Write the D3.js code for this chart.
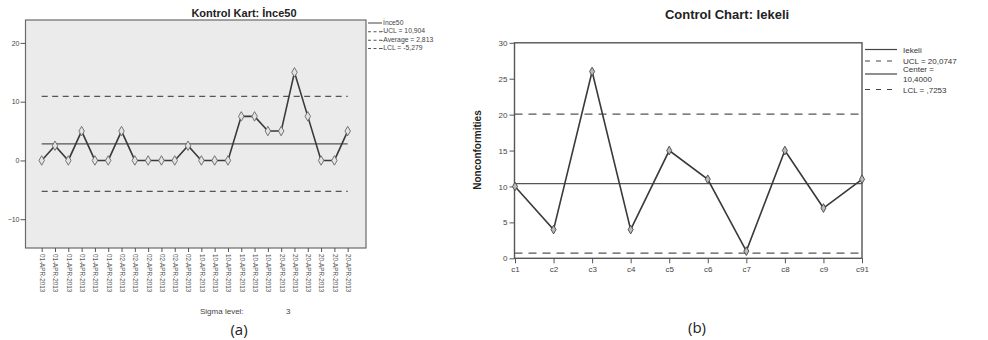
<!DOCTYPE html>
<html>
<head>
<meta charset="utf-8">
<script src="https://cdn.jsdelivr.net/npm/d3@7"></script>
<style>
  html, body { margin: 0; padding: 0; background: #fff; }
  svg { display: block; font-family: "Liberation Sans", Arial, sans-serif; }
</style>
</head>
<body>
<svg id="chart" width="988" height="340"></svg>
<script>
// ---- Panel (a): Kontrol Kart: İnce50 ----
const datesA = [
  "01-APR-2013","01-APR-2013","01-APR-2013","01-APR-2013","01-APR-2013","01-APR-2013",
  "02-APR-2013","02-APR-2013","02-APR-2013","02-APR-2013","02-APR-2013","02-APR-2013",
  "10-APR-2013","10-APR-2013","10-APR-2013","10-APR-2013","10-APR-2013","10-APR-2013",
  "20-APR-2013","20-APR-2013","20-APR-2013","20-APR-2013","20-APR-2013","20-APR-2013"
];
const valuesA = [0, 2.5, 0, 5, 0, 0, 5, 0, 0, 0, 0, 2.5, 0, 0, 0, 7.5, 7.5, 5, 5, 15, 7.5, 0, 0, 5];
const uclA = 10.904, avgA = 2.813, lclA = -5.279;
const yTicksA = [-10, 0, 10, 20];
const legendA = ["İnce50", "-UCL = 10,904", "-Average = 2,813", "-LCL = -5,279"];

// ---- Panel (b): Control Chart: Iekeli ----
const catsB = ["c1","c2","c3","c4","c5","c6","c7","c8","c9","c91"];
const valuesB = [10, 4, 26, 4, 15, 11, 1, 15, 7, 11];
const uclB = 20.0747, centerB = 10.4, lclB = 0.7253;
const yTicksB = [0, 5, 10, 15, 20, 25, 30];

const svg = d3.select("#chart");
const lineColor = "#3a3a3a";

// ================= Panel (a) =================
{
  const L = 25.5, R = 366, T = 20, B = 248;
  const g = svg.append("g");
  const x = d3.scalePoint().domain(d3.range(valuesA.length)).range([41.7, 347.7]);
  const y = d3.scaleLinear().domain([-14.9, 23.9]).range([B, T]);

  g.append("rect").attr("x", L).attr("y", T).attr("width", R - L).attr("height", B - T)
    .attr("fill", "#ebebeb").attr("stroke", "#6a6a6a").attr("stroke-width", 1.2);

  // y axis
  const yAxis = g.append("g").attr("transform", `translate(${L},0)`)
    .call(d3.axisLeft(y).tickValues(yTicksA).tickSize(5).tickPadding(1));
  yAxis.select(".domain").remove();
  yAxis.selectAll("line").attr("stroke", "#555");
  yAxis.selectAll("text").attr("font-size", 7).attr("fill", "#444");

  // x axis with rotated date labels
  const xAxis = g.append("g").attr("transform", `translate(0,${B})`)
    .call(d3.axisBottom(x).tickSize(4).tickFormat(i => datesA[i]));
  xAxis.select(".domain").remove();
  xAxis.selectAll("line").attr("stroke", "#555");
  xAxis.selectAll("text")
    .attr("font-size", 6.3).attr("fill", "#555")
    .attr("transform", "rotate(90)")
    .attr("text-anchor", "start")
    .attr("x", 6).attr("y", 0).attr("dy", "0.33em");

  const x0 = x(0), x1 = x(valuesA.length - 1);
  // control limits
  g.append("line").attr("x1", x0).attr("x2", x1).attr("y1", y(uclA)).attr("y2", y(uclA))
    .attr("stroke", "#555").attr("stroke-width", 1.3).attr("stroke-dasharray", "6,4.5");
  g.append("line").attr("x1", x0).attr("x2", x1).attr("y1", y(lclA)).attr("y2", y(lclA))
    .attr("stroke", "#555").attr("stroke-width", 1.3).attr("stroke-dasharray", "6,4.5");
  g.append("line").attr("x1", x0).attr("x2", x1).attr("y1", y(avgA)).attr("y2", y(avgA))
    .attr("stroke", "#555").attr("stroke-width", 1.3);

  // series
  g.append("path").datum(valuesA)
    .attr("d", d3.line().x((d, i) => x(i)).y(d => y(d)))
    .attr("fill", "none").attr("stroke", lineColor).attr("stroke-width", 1.6);
  g.selectAll(".mkA").data(valuesA).join("path").attr("class", "mkA")
    .attr("transform", (d, i) => `translate(${x(i)},${y(d)})`)
    .attr("d", d3.symbol(d3.symbolDiamond, 26))
    .attr("fill", "#e4e4e4").attr("stroke", "#666").attr("stroke-width", 0.9);

  // title
  svg.append("text").attr("x", 244).attr("y", 16.5).attr("text-anchor", "middle")
    .attr("font-size", 11).attr("font-weight", "bold").attr("fill", "#222")
    .text("Kontrol Kart: İnce50");

  // legend
  const lg = svg.append("g");
  const rowsY = [25, 33.3, 41.7, 50];
  legendA.forEach((t, i) => {
    const yy = rowsY[i];
    if (i === 0) {
      lg.append("line").attr("x1", 368).attr("x2", 382).attr("y1", yy - 2).attr("y2", yy - 2)
        .attr("stroke", "#555").attr("stroke-width", 1.1);
    } else {
      lg.append("line").attr("x1", 368).attr("x2", 382).attr("y1", yy - 1.5).attr("y2", yy - 1.5)
        .attr("stroke", "#555").attr("stroke-width", 1.1).attr("stroke-dasharray", "3,2.5");
    }
    lg.append("text").attr("x", i === 0 ? 383 : 381).attr("y", yy).attr("font-size", 6.8)
      .attr("fill", "#444").text(t);
  });

  // sigma level note and caption
  svg.append("text").attr("x", 200).attr("y", 314).attr("font-size", 8).attr("fill", "#444")
    .text("Sigma level:");
  svg.append("text").attr("x", 286).attr("y", 314).attr("font-size", 8).attr("fill", "#444")
    .text("3");
  svg.append("text").attr("x", 239).attr("y", 335).attr("text-anchor", "middle")
    .attr("font-size", 15).attr("fill", "#222").attr("font-family", "'Open Sans', 'DejaVu Sans', sans-serif")
    .text("(a)");
}

// ================= Panel (b) =================
{
  const L = 514.5, R = 862, T = 42.8, B = 258.3;
  const g = svg.append("g");
  const x = d3.scalePoint().domain(catsB).range([L + 0.5, R]);
  const y = d3.scaleLinear().domain([0, 30]).range([B, T]);

  // frame
  g.append("rect").attr("x", L).attr("y", T).attr("width", R - L).attr("height", B - T)
    .attr("fill", "none").attr("stroke", "#555").attr("stroke-width", 1.4);

  const yAxis = g.append("g").attr("transform", `translate(${L},0)`)
    .call(d3.axisLeft(y).tickValues(yTicksB).tickSize(5).tickPadding(2));
  yAxis.select(".domain").remove();
  yAxis.selectAll("line").attr("stroke", "#555");
  yAxis.selectAll("text").attr("font-size", 8).attr("fill", "#444");

  const xAxis = g.append("g").attr("transform", `translate(0,${B})`)
    .call(d3.axisBottom(x).tickSize(5).tickPadding(3));
  xAxis.select(".domain").remove();
  xAxis.selectAll("line").attr("stroke", "#555");
  xAxis.selectAll("text").attr("font-size", 8).attr("fill", "#444");

  svg.append("text").attr("transform", "translate(481,150) rotate(-90)")
    .attr("text-anchor", "middle").attr("font-size", 10).attr("font-weight", "bold")
    .attr("fill", "#222").text("Nonconformities");

  // control limits
  g.append("line").attr("x1", L).attr("x2", R).attr("y1", y(uclB)).attr("y2", y(uclB))
    .attr("stroke", "#555").attr("stroke-width", 1.4).attr("stroke-dasharray", "8,6");
  g.append("line").attr("x1", L).attr("x2", R).attr("y1", y(lclB)).attr("y2", y(lclB))
    .attr("stroke", "#555").attr("stroke-width", 1.4).attr("stroke-dasharray", "8,6");
  g.append("line").attr("x1", L).attr("x2", R).attr("y1", y(centerB)).attr("y2", y(centerB))
    .attr("stroke", "#555").attr("stroke-width", 1.4);

  g.append("path").datum(valuesB)
    .attr("d", d3.line().x((d, i) => x(catsB[i])).y(d => y(d)))
    .attr("fill", "none").attr("stroke", lineColor).attr("stroke-width", 1.6);
  g.selectAll(".mkB").data(valuesB).join("path").attr("class", "mkB")
    .attr("transform", (d, i) => `translate(${x(catsB[i])},${y(d)})`)
    .attr("d", d3.symbol(d3.symbolDiamond, 22))
    .attr("fill", "#bbb").attr("stroke", "#444").attr("stroke-width", 0.9);

  // title
  svg.append("text").attr("x", 727).attr("y", 19).attr("text-anchor", "middle")
    .attr("font-size", 13).attr("font-weight", "bold").attr("fill", "#222")
    .text("Control Chart: Iekeli");

  // legend
  const lg = svg.append("g");
  const lx1 = 865, lx2 = 897, tx = 903, fs = 8;
  lg.append("line").attr("x1", lx1).attr("x2", lx2).attr("y1", 49.5).attr("y2", 49.5)
    .attr("stroke", "#444").attr("stroke-width", 1.2);
  lg.append("text").attr("x", tx).attr("y", 52.5).attr("font-size", fs).attr("fill", "#333").text("Iekeli");
  lg.append("line").attr("x1", lx1).attr("x2", lx2).attr("y1", 61).attr("y2", 61)
    .attr("stroke", "#444").attr("stroke-width", 1.2).attr("stroke-dasharray", "5,6");
  lg.append("text").attr("x", tx).attr("y", 63.5).attr("font-size", fs).attr("fill", "#333").text("UCL = 20,0747");
  lg.append("line").attr("x1", lx1).attr("x2", lx2).attr("y1", 74).attr("y2", 74)
    .attr("stroke", "#444").attr("stroke-width", 1.2);
  lg.append("text").attr("x", tx).attr("y", 72).attr("font-size", fs).attr("fill", "#333").text("Center =");
  lg.append("text").attr("x", tx).attr("y", 81.5).attr("font-size", fs).attr("fill", "#333").text("10,4000");
  lg.append("line").attr("x1", lx1).attr("x2", lx2).attr("y1", 89.5).attr("y2", 89.5)
    .attr("stroke", "#444").attr("stroke-width", 1.2).attr("stroke-dasharray", "5,6");
  lg.append("text").attr("x", tx).attr("y", 92.5).attr("font-size", fs).attr("fill", "#333").text("LCL = ,7253");

  svg.append("text").attr("x", 697).attr("y", 333).attr("text-anchor", "middle")
    .attr("font-size", 15).attr("fill", "#222").attr("font-family", "'Open Sans', 'DejaVu Sans', sans-serif")
    .text("(b)");
}
</script>
</body>
</html>
